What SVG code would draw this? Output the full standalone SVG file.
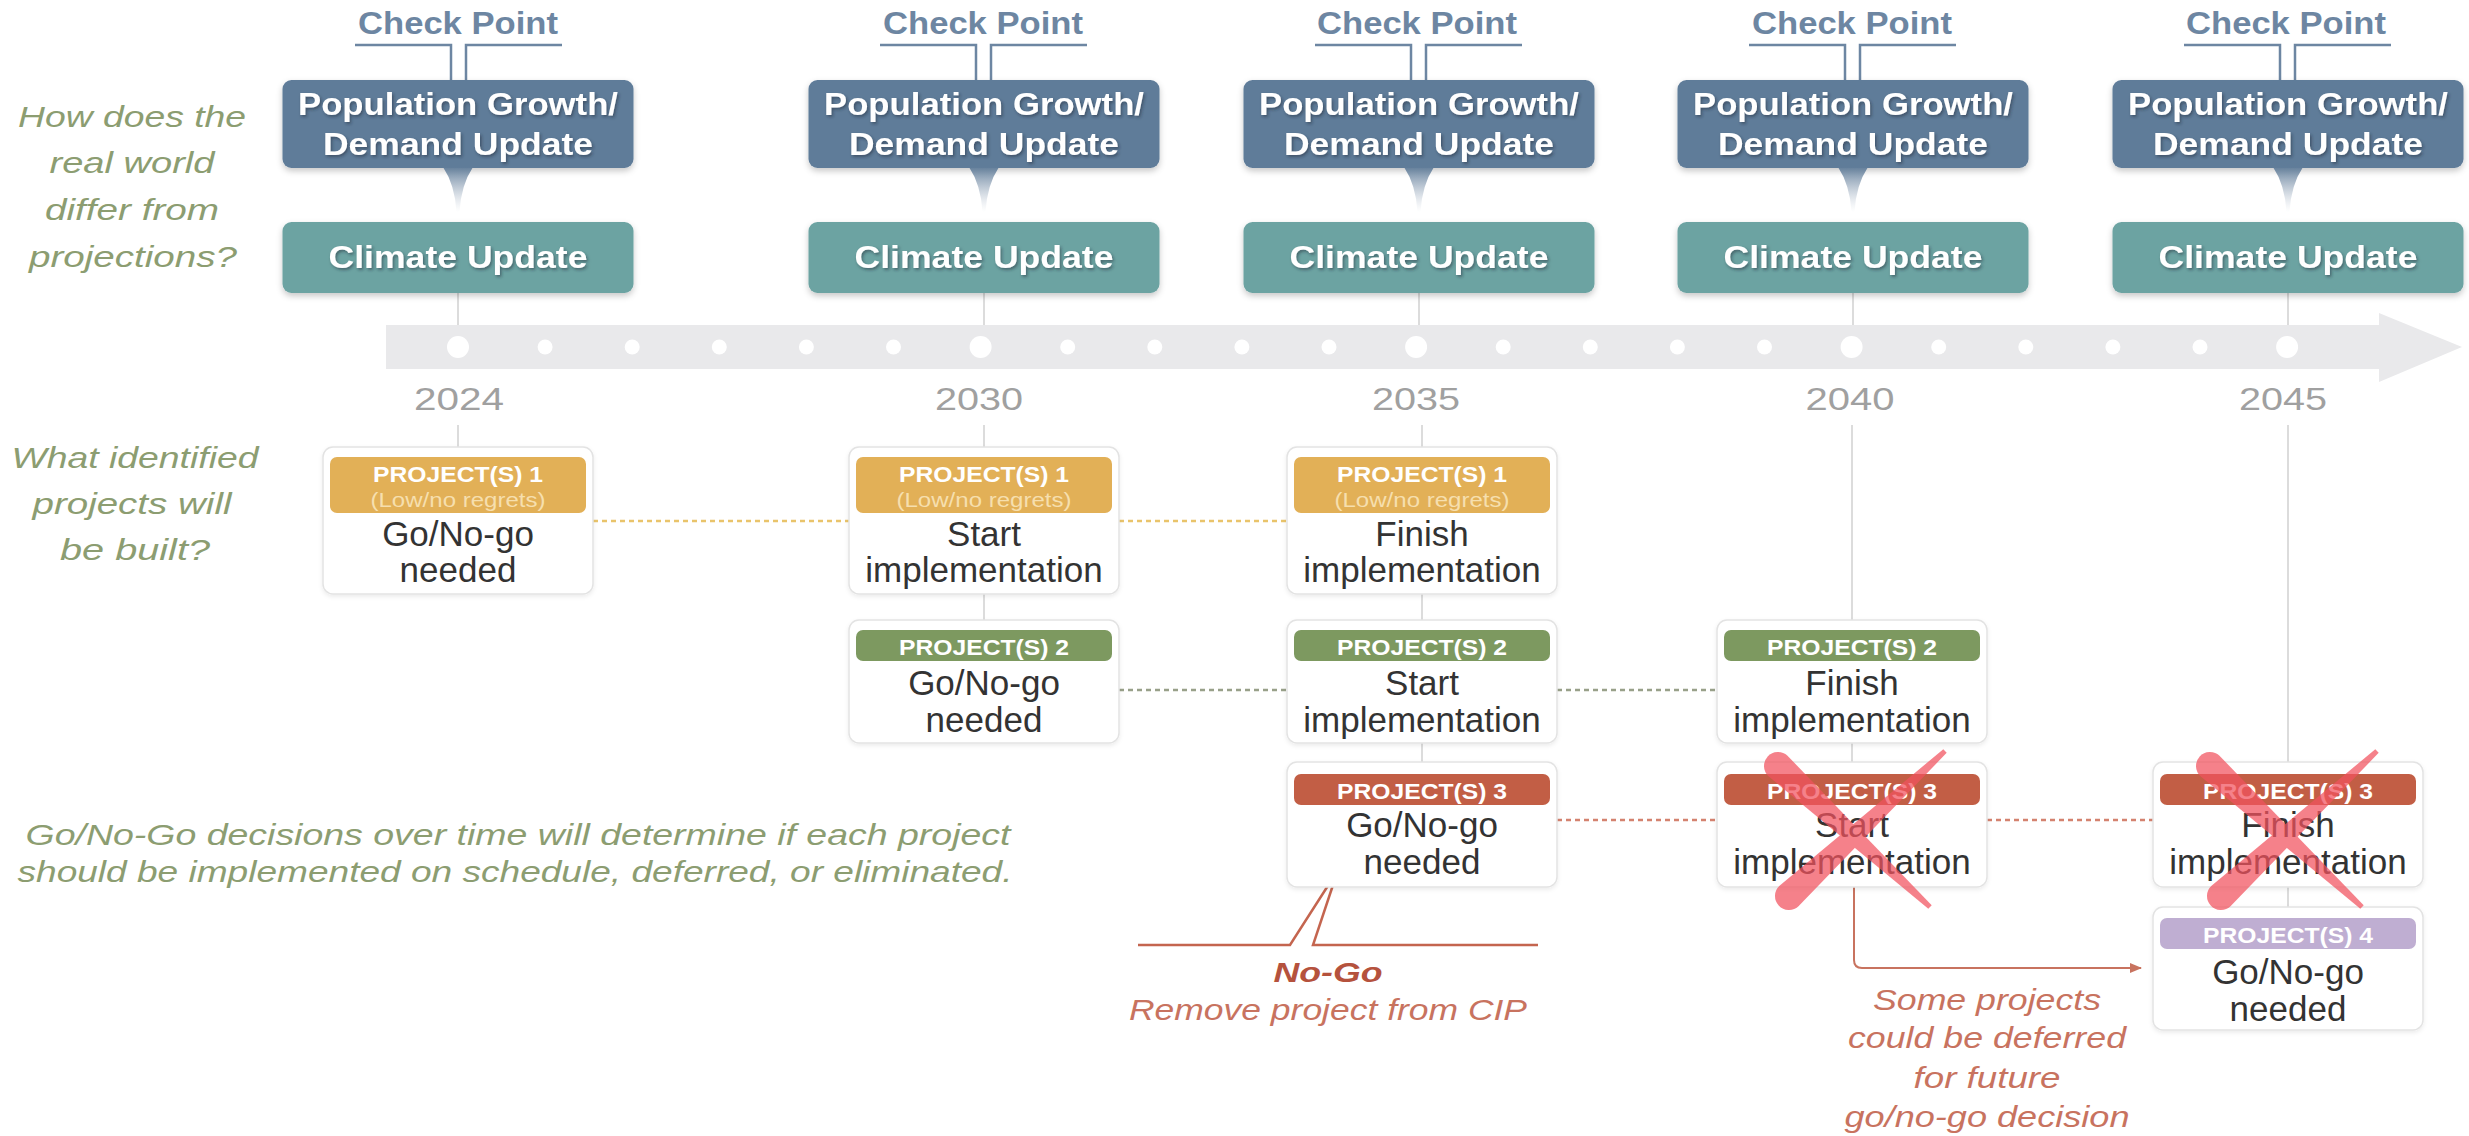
<svg xmlns="http://www.w3.org/2000/svg" xmlns:xlink="http://www.w3.org/1999/xlink" width="2469" height="1136" viewBox="0 0 2469 1136">
<defs>
<style>
text{font-family:'Liberation Sans',Arial,sans-serif}
.cp{font-weight:bold;font-size:31px;fill:#6d86a2}
.bt{font-weight:bold;font-size:32px;fill:#fff;filter:url(#ts)}
.q{font-style:italic;font-size:30px;fill:#8c9d71}
.yr{font-size:31px;fill:#a0a0a0}
.ph{font-weight:bold;font-size:22px;fill:#fff}
.ps{font-size:20px;fill:#f6dfae}
.pb{font-size:35px;fill:#333}
.rt{font-style:italic;font-size:30px;fill:#c8735f}
.brk{fill:none;stroke:#6d86a2;stroke-width:2.5}
.pop{fill:#5f7c99;filter:url(#bs)}
.cli{fill:#6ca3a2;filter:url(#bs)}
.wedge{fill:url(#wg)}
.card{fill:#fff;stroke:#e3e3e3;stroke-width:1.5;filter:url(#cs)}
.vl{stroke:#dcdcdc;stroke-width:2;fill:none}
.d1{stroke:#e9c46b;stroke-width:2.5;stroke-dasharray:5 4}
.d2{stroke:#98a089;stroke-width:2.5;stroke-dasharray:5 4}
.d3{stroke:#d4826f;stroke-width:2.5;stroke-dasharray:5 4}
.h1{fill:#e2b057}.h2{fill:#7d9960}.h3{fill:#c25e45}.h4{fill:#bfaed2}
.dot{fill:#fff}
</style>
<filter id="ts" x="-10%" y="-40%" width="120%" height="180%"><feDropShadow dx="1.5" dy="2" stdDeviation="1.5" flood-color="#1d2a38" flood-opacity="0.5"/></filter>
<filter id="bs" x="-5%" y="-10%" width="110%" height="130%"><feDropShadow dx="0" dy="3" stdDeviation="3" flood-color="#000" flood-opacity="0.22"/></filter>
<filter id="cs" x="-5%" y="-5%" width="110%" height="115%"><feDropShadow dx="0" dy="2" stdDeviation="2" flood-color="#000" flood-opacity="0.08"/></filter>
<linearGradient id="wg" x1="0" y1="0" x2="0" y2="1"><stop offset="0" stop-color="#5f7c99" stop-opacity="0.95"/><stop offset="0.45" stop-color="#7d93ab" stop-opacity="0.5"/><stop offset="1" stop-color="#b9c4d1" stop-opacity="0"/></linearGradient>
<marker id="ah" markerWidth="12" markerHeight="10" refX="11" refY="5" orient="auto" markerUnits="userSpaceOnUse"><path d="M0,0 L12,5 L0,10 Z" fill="#c8735f"/></marker>
<g id="xmark">
<path d="M -64.5 -74.3 L 79.7 75.2 L 76.3 78.8 L -83.5 -53.7 A 14 14 0 0 1 -64.5 -74.3 Z"/>
<path d="M -72.5 55.7 L 91.3 -80.8 L 94.7 -77.2 L -53.5 76.3 A 14 14 0 0 1 -72.5 55.7 Z"/>
</g>
</defs>
<rect width="2469" height="1136" fill="#fff"/>

<g id="left-labels">
<text class="q" text-anchor="middle" x="132" y="127" textLength="228" lengthAdjust="spacingAndGlyphs">How does the</text>
<text class="q" text-anchor="middle" x="132" y="173" textLength="165" lengthAdjust="spacingAndGlyphs">real world</text>
<text class="q" text-anchor="middle" x="132" y="220" textLength="174" lengthAdjust="spacingAndGlyphs">differ from</text>
<text class="q" text-anchor="middle" x="133" y="267" textLength="208" lengthAdjust="spacingAndGlyphs">projections?</text>
<text class="q" text-anchor="middle" x="135" y="468" textLength="247" lengthAdjust="spacingAndGlyphs">What identified</text>
<text class="q" text-anchor="middle" x="132" y="514" textLength="199" lengthAdjust="spacingAndGlyphs">projects will</text>
<text class="q" text-anchor="middle" x="135" y="560" textLength="150" lengthAdjust="spacingAndGlyphs">be built?</text>
<text class="q" text-anchor="middle" x="518" y="845" textLength="985" lengthAdjust="spacingAndGlyphs">Go/No-Go decisions over time will determine if each project</text>
<text class="q" text-anchor="middle" x="515" y="882" textLength="995" lengthAdjust="spacingAndGlyphs">should be implemented on schedule, deferred, or eliminated.</text>
</g>

<g id="connectors">
<g class="vl">
<path d="M458 293V325M984 293V325M1419 293V325M1853 293V325M2288 293V325"/>
<path d="M458 425V447M984 425V620M1422 425V762M1852 425V762M2288 425V907"/>
</g>
<line class="d1" x1="593" y1="521" x2="849" y2="521"/>
<line class="d1" x1="1119" y1="521" x2="1287" y2="521"/>
<line class="d2" x1="1119" y1="690" x2="1287" y2="690"/>
<line class="d2" x1="1557" y1="690" x2="1717" y2="690"/>
<line class="d3" x1="1557" y1="820" x2="1717" y2="820"/>
<line class="d3" x1="1987" y1="820" x2="2153" y2="820"/>
<path d="M1854 887V960Q1854 968 1862 968H2141" fill="none" stroke="#c8735f" stroke-width="2" marker-end="url(#ah)"/>
<path d="M1138 945H1290L1338 870L1313 945H1538" fill="none" stroke="#c4654f" stroke-width="2.5" stroke-linejoin="miter"/>
</g>

<g id="timeline">
<rect x="386" y="325" width="1995" height="44" fill="#e9e9eb"/>
<polygon points="2379,313 2462,347 2379,382" fill="#e9e9eb"/>
<g class="dot">
<circle cx="458" cy="347" r="11"/><circle cx="545.1" cy="347" r="7.5"/><circle cx="632.2" cy="347" r="7.5"/><circle cx="719.3" cy="347" r="7.5"/><circle cx="806.4" cy="347" r="7.5"/><circle cx="893.5" cy="347" r="7.5"/>
<circle cx="980.6" cy="347" r="11"/><circle cx="1067.7" cy="347" r="7.5"/><circle cx="1154.8" cy="347" r="7.5"/><circle cx="1241.9" cy="347" r="7.5"/><circle cx="1329" cy="347" r="7.5"/>
<circle cx="1416.1" cy="347" r="11"/><circle cx="1503.2" cy="347" r="7.5"/><circle cx="1590.3" cy="347" r="7.5"/><circle cx="1677.4" cy="347" r="7.5"/><circle cx="1764.5" cy="347" r="7.5"/>
<circle cx="1851.6" cy="347" r="11"/><circle cx="1938.7" cy="347" r="7.5"/><circle cx="2025.8" cy="347" r="7.5"/><circle cx="2112.9" cy="347" r="7.5"/><circle cx="2200" cy="347" r="7.5"/>
<circle cx="2287.1" cy="347" r="11"/>
</g>
<text class="yr" text-anchor="middle" x="459" y="410" textLength="90" lengthAdjust="spacingAndGlyphs">2024</text>
<text class="yr" text-anchor="middle" x="979" y="410" textLength="88" lengthAdjust="spacingAndGlyphs">2030</text>
<text class="yr" text-anchor="middle" x="1416" y="410" textLength="88" lengthAdjust="spacingAndGlyphs">2035</text>
<text class="yr" text-anchor="middle" x="1850" y="410" textLength="89" lengthAdjust="spacingAndGlyphs">2040</text>
<text class="yr" text-anchor="middle" x="2283" y="410" textLength="88" lengthAdjust="spacingAndGlyphs">2045</text>
</g>

<g id="checkpoint-2024">
<text class="cp" text-anchor="middle" x="458" y="34" textLength="200" lengthAdjust="spacingAndGlyphs">Check Point</text>
<path class="brk" d="M355 45H451V80M466 80V45H562"/>
<rect class="pop" x="282.5" y="80" width="351" height="88" rx="9"/>
<text class="bt" text-anchor="middle" x="458" y="115" textLength="320" lengthAdjust="spacingAndGlyphs">Population Growth/</text>
<text class="bt" text-anchor="middle" x="458" y="155" textLength="270" lengthAdjust="spacingAndGlyphs">Demand Update</text>
<path class="wedge" d="M443 167Q455 185 456.5 212H459.5Q461 185 473 167Z"/>
<rect class="cli" x="282.5" y="222" width="351" height="71" rx="9"/>
<text class="bt" text-anchor="middle" x="458" y="268" textLength="259" lengthAdjust="spacingAndGlyphs">Climate Update</text>
</g>
<g id="checkpoint-2030">
<text class="cp" text-anchor="middle" x="983" y="34" textLength="200" lengthAdjust="spacingAndGlyphs">Check Point</text>
<path class="brk" d="M880 45H976V80M991 80V45H1087"/>
<rect class="pop" x="808.5" y="80" width="351" height="88" rx="9"/>
<text class="bt" text-anchor="middle" x="984" y="115" textLength="320" lengthAdjust="spacingAndGlyphs">Population Growth/</text>
<text class="bt" text-anchor="middle" x="984" y="155" textLength="270" lengthAdjust="spacingAndGlyphs">Demand Update</text>
<path class="wedge" d="M969 167Q981 185 982.5 212H985.5Q987 185 999 167Z"/>
<rect class="cli" x="808.5" y="222" width="351" height="71" rx="9"/>
<text class="bt" text-anchor="middle" x="984" y="268" textLength="259" lengthAdjust="spacingAndGlyphs">Climate Update</text>
</g>
<g id="checkpoint-2035">
<text class="cp" text-anchor="middle" x="1417" y="34" textLength="200" lengthAdjust="spacingAndGlyphs">Check Point</text>
<path class="brk" d="M1315 45H1411V80M1426 80V45H1522"/>
<rect class="pop" x="1243.5" y="80" width="351" height="88" rx="9"/>
<text class="bt" text-anchor="middle" x="1419" y="115" textLength="320" lengthAdjust="spacingAndGlyphs">Population Growth/</text>
<text class="bt" text-anchor="middle" x="1419" y="155" textLength="270" lengthAdjust="spacingAndGlyphs">Demand Update</text>
<path class="wedge" d="M1404 167Q1416 185 1417.5 212H1420.5Q1422 185 1434 167Z"/>
<rect class="cli" x="1243.5" y="222" width="351" height="71" rx="9"/>
<text class="bt" text-anchor="middle" x="1419" y="268" textLength="259" lengthAdjust="spacingAndGlyphs">Climate Update</text>
</g>
<g id="checkpoint-2040">
<text class="cp" text-anchor="middle" x="1852" y="34" textLength="200" lengthAdjust="spacingAndGlyphs">Check Point</text>
<path class="brk" d="M1749 45H1845V80M1860 80V45H1956"/>
<rect class="pop" x="1677.5" y="80" width="351" height="88" rx="9"/>
<text class="bt" text-anchor="middle" x="1853" y="115" textLength="320" lengthAdjust="spacingAndGlyphs">Population Growth/</text>
<text class="bt" text-anchor="middle" x="1853" y="155" textLength="270" lengthAdjust="spacingAndGlyphs">Demand Update</text>
<path class="wedge" d="M1838 167Q1850 185 1851.5 212H1854.5Q1856 185 1868 167Z"/>
<rect class="cli" x="1677.5" y="222" width="351" height="71" rx="9"/>
<text class="bt" text-anchor="middle" x="1853" y="268" textLength="259" lengthAdjust="spacingAndGlyphs">Climate Update</text>
</g>
<g id="checkpoint-2045">
<text class="cp" text-anchor="middle" x="2286" y="34" textLength="200" lengthAdjust="spacingAndGlyphs">Check Point</text>
<path class="brk" d="M2184 45H2280V80M2295 80V45H2391"/>
<rect class="pop" x="2112.5" y="80" width="351" height="88" rx="9"/>
<text class="bt" text-anchor="middle" x="2288" y="115" textLength="320" lengthAdjust="spacingAndGlyphs">Population Growth/</text>
<text class="bt" text-anchor="middle" x="2288" y="155" textLength="270" lengthAdjust="spacingAndGlyphs">Demand Update</text>
<path class="wedge" d="M2273 167Q2285 185 2286.5 212H2289.5Q2291 185 2303 167Z"/>
<rect class="cli" x="2112.5" y="222" width="351" height="71" rx="9"/>
<text class="bt" text-anchor="middle" x="2288" y="268" textLength="259" lengthAdjust="spacingAndGlyphs">Climate Update</text>
</g>

<g id="p1-2024">
<rect class="card" x="323" y="447" width="270" height="147" rx="10"/>
<rect class="h1" x="330" y="457" width="256" height="56" rx="7"/>
<text class="ph" text-anchor="middle" x="458" y="482" textLength="170" lengthAdjust="spacingAndGlyphs">PROJECT(S) 1</text>
<text class="ps" text-anchor="middle" x="458" y="507" textLength="175" lengthAdjust="spacingAndGlyphs">(Low/no regrets)</text>
<text class="pb" text-anchor="middle" x="458" y="546">Go/No-go</text>
<text class="pb" text-anchor="middle" x="458" y="582">needed</text>
</g>
<g id="p1-2030">
<rect class="card" x="849" y="447" width="270" height="147" rx="10"/>
<rect class="h1" x="856" y="457" width="256" height="56" rx="7"/>
<text class="ph" text-anchor="middle" x="984" y="482" textLength="170" lengthAdjust="spacingAndGlyphs">PROJECT(S) 1</text>
<text class="ps" text-anchor="middle" x="984" y="507" textLength="175" lengthAdjust="spacingAndGlyphs">(Low/no regrets)</text>
<text class="pb" text-anchor="middle" x="984" y="546">Start</text>
<text class="pb" text-anchor="middle" x="984" y="582">implementation</text>
</g>
<g id="p1-2035">
<rect class="card" x="1287" y="447" width="270" height="147" rx="10"/>
<rect class="h1" x="1294" y="457" width="256" height="56" rx="7"/>
<text class="ph" text-anchor="middle" x="1422" y="482" textLength="170" lengthAdjust="spacingAndGlyphs">PROJECT(S) 1</text>
<text class="ps" text-anchor="middle" x="1422" y="507" textLength="175" lengthAdjust="spacingAndGlyphs">(Low/no regrets)</text>
<text class="pb" text-anchor="middle" x="1422" y="546">Finish</text>
<text class="pb" text-anchor="middle" x="1422" y="582">implementation</text>
</g>
<g id="p2-2030">
<rect class="card" x="849" y="620" width="270" height="123" rx="10"/>
<rect class="h2" x="856" y="630" width="256" height="31" rx="7"/>
<text class="ph" text-anchor="middle" x="984" y="655" textLength="170" lengthAdjust="spacingAndGlyphs">PROJECT(S) 2</text>
<text class="pb" text-anchor="middle" x="984" y="695">Go/No-go</text>
<text class="pb" text-anchor="middle" x="984" y="732">needed</text>
</g>
<g id="p2-2035">
<rect class="card" x="1287" y="620" width="270" height="123" rx="10"/>
<rect class="h2" x="1294" y="630" width="256" height="31" rx="7"/>
<text class="ph" text-anchor="middle" x="1422" y="655" textLength="170" lengthAdjust="spacingAndGlyphs">PROJECT(S) 2</text>
<text class="pb" text-anchor="middle" x="1422" y="695">Start</text>
<text class="pb" text-anchor="middle" x="1422" y="732">implementation</text>
</g>
<g id="p2-2040">
<rect class="card" x="1717" y="620" width="270" height="123" rx="10"/>
<rect class="h2" x="1724" y="630" width="256" height="31" rx="7"/>
<text class="ph" text-anchor="middle" x="1852" y="655" textLength="170" lengthAdjust="spacingAndGlyphs">PROJECT(S) 2</text>
<text class="pb" text-anchor="middle" x="1852" y="695">Finish</text>
<text class="pb" text-anchor="middle" x="1852" y="732">implementation</text>
</g>
<g id="p3-2035">
<rect class="card" x="1287" y="762" width="270" height="125" rx="10"/>
<rect class="h3" x="1294" y="774" width="256" height="31" rx="7"/>
<text class="ph" text-anchor="middle" x="1422" y="799" textLength="170" lengthAdjust="spacingAndGlyphs">PROJECT(S) 3</text>
<text class="pb" text-anchor="middle" x="1422" y="837">Go/No-go</text>
<text class="pb" text-anchor="middle" x="1422" y="874">needed</text>
</g>
<g id="p3-2040">
<rect class="card" x="1717" y="762" width="270" height="125" rx="10"/>
<rect class="h3" x="1724" y="774" width="256" height="31" rx="7"/>
<text class="ph" text-anchor="middle" x="1852" y="799" textLength="170" lengthAdjust="spacingAndGlyphs">PROJECT(S) 3</text>
<text class="pb" text-anchor="middle" x="1852" y="837">Start</text>
<text class="pb" text-anchor="middle" x="1852" y="874">implementation</text>
</g>
<g id="p3-2045">
<rect class="card" x="2153" y="762" width="270" height="125" rx="10"/>
<rect class="h3" x="2160" y="774" width="256" height="31" rx="7"/>
<text class="ph" text-anchor="middle" x="2288" y="799" textLength="170" lengthAdjust="spacingAndGlyphs">PROJECT(S) 3</text>
<text class="pb" text-anchor="middle" x="2288" y="837">Finish</text>
<text class="pb" text-anchor="middle" x="2288" y="874">implementation</text>
</g>
<g id="p4-2045">
<rect class="card" x="2153" y="907" width="270" height="123" rx="10"/>
<rect class="h4" x="2160" y="918" width="256" height="31" rx="7"/>
<text class="ph" text-anchor="middle" x="2288" y="943" textLength="170" lengthAdjust="spacingAndGlyphs">PROJECT(S) 4</text>
<text class="pb" text-anchor="middle" x="2288" y="984">Go/No-go</text>
<text class="pb" text-anchor="middle" x="2288" y="1021">needed</text>
</g>

<g id="cross-marks" fill="#f2525e">
<use xlink:href="#xmark" href="#xmark" x="1852" y="830" opacity="0.72"/>
<use xlink:href="#xmark" href="#xmark" x="2284" y="830" opacity="0.72"/>
</g>

<g id="annotations">
<text text-anchor="middle" x="1328" y="982" font-size="28" font-weight="bold" font-style="italic" fill="#b5523d" textLength="109" lengthAdjust="spacingAndGlyphs">No-Go</text>
<text class="rt" text-anchor="middle" x="1328" y="1020" textLength="398" lengthAdjust="spacingAndGlyphs">Remove project from CIP</text>
<text class="rt" text-anchor="middle" x="1987" y="1010" textLength="228" lengthAdjust="spacingAndGlyphs">Some projects</text>
<text class="rt" text-anchor="middle" x="1987" y="1048" textLength="278" lengthAdjust="spacingAndGlyphs">could be deferred</text>
<text class="rt" text-anchor="middle" x="1987" y="1088" textLength="147" lengthAdjust="spacingAndGlyphs">for future</text>
<text class="rt" text-anchor="middle" x="1987" y="1127" textLength="285" lengthAdjust="spacingAndGlyphs">go/no-go decision</text>
</g>
</svg>
